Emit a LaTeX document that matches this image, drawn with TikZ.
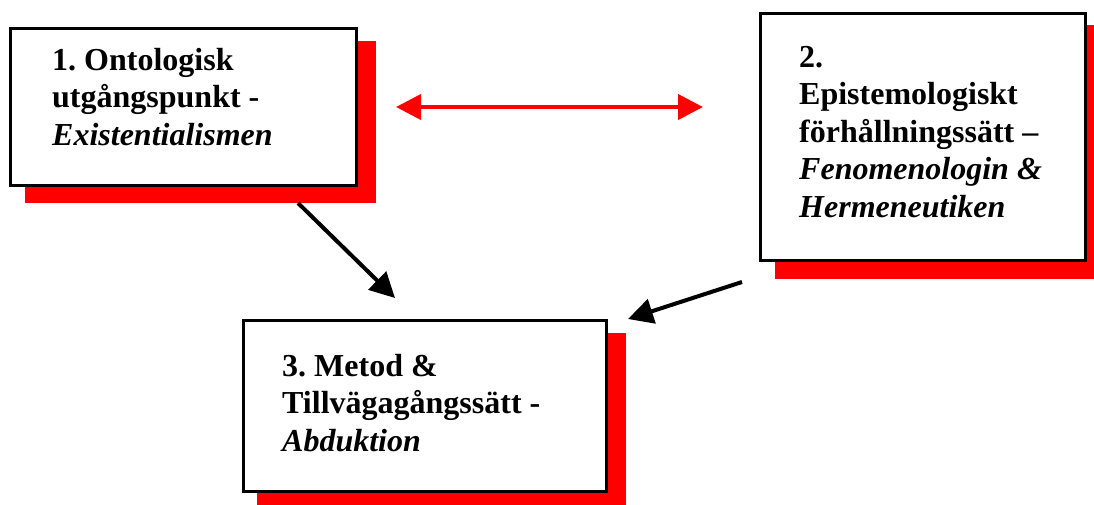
\documentclass[tikz,border=0pt]{standalone}
\usepackage{fontspec}
\setmainfont{Liberation Serif}
\usetikzlibrary{arrows.meta,backgrounds}
\begin{document}
\begin{tikzpicture}[x=1pt,y=-1pt,
  box/.style={draw=black,line width=3pt,fill=white,inner sep=0pt},
  boxtext/.style={anchor=base west,align=left,inner sep=0pt,
    font=\fontsize{32}{37.5}\selectfont\bfseries\frenchspacing},
  shadowfill/.style={fill=red},
  redlink/.style={draw=red,line width=4pt,
    {Triangle[length=25pt,width=25pt]}-{Triangle[length=25pt,width=25pt]}},
  blacklink/.style={draw=black,line width=4pt,
    -{Triangle[length=25pt,width=25pt]}}]
\useasboundingbox (0,0) rectangle (1094,504);

% framed boxes
\node[box,minimum width=346pt,minimum height=157pt] (b1) at (183.5,107) {};
\node[box,minimum width=325pt,minimum height=247pt] (b2) at (923,137) {};
\node[box,minimum width=363pt,minimum height=171pt] (b3) at (425,406) {};

% red drop shadows behind the boxes
\begin{pgfonlayer}{background}
  \fill[shadowfill] ([shift={(16,14)}]b1.north west) rectangle ([shift={(18,16)}]b1.south east);
  \fill[shadowfill] ([shift={(16,13)}]b2.north west) rectangle ([shift={(18,17)}]b2.south east);
  \fill[shadowfill] ([shift={(15,14)}]b3.north west) rectangle ([shift={(18,17)}]b3.south east);
\end{pgfonlayer}

% box texts (anchored at the baseline of the last line)
\node[boxtext] (t1) at (52,145) {1. Ontologisk\\utgångspunkt -\\\textit{Existentialismen}};
\node[boxtext] (t2) at (799,217) {2.\\Epistemologiskt\\förhållningssätt –\\\textit{Fenomenologin \&}\\\textit{Hermeneutiken}};
\node[boxtext] (t3) at (282,451) {3. Metod \&\\Tillvägagångssätt -\\\textit{Abduktion}};

% connector ends
\coordinate (r1) at (396,107);
\coordinate (r2) at (703,107);
\coordinate (k1) at (298,203);
\coordinate (k2) at (395,298);
\coordinate (k3) at (742,282);
\coordinate (k4) at (628,319);

% connectors
\draw[redlink] (r1) -- (r2);
\draw[blacklink] (k1) -- (k2);
\draw[blacklink] (k3) -- (k4);
\end{tikzpicture}
\end{document}
